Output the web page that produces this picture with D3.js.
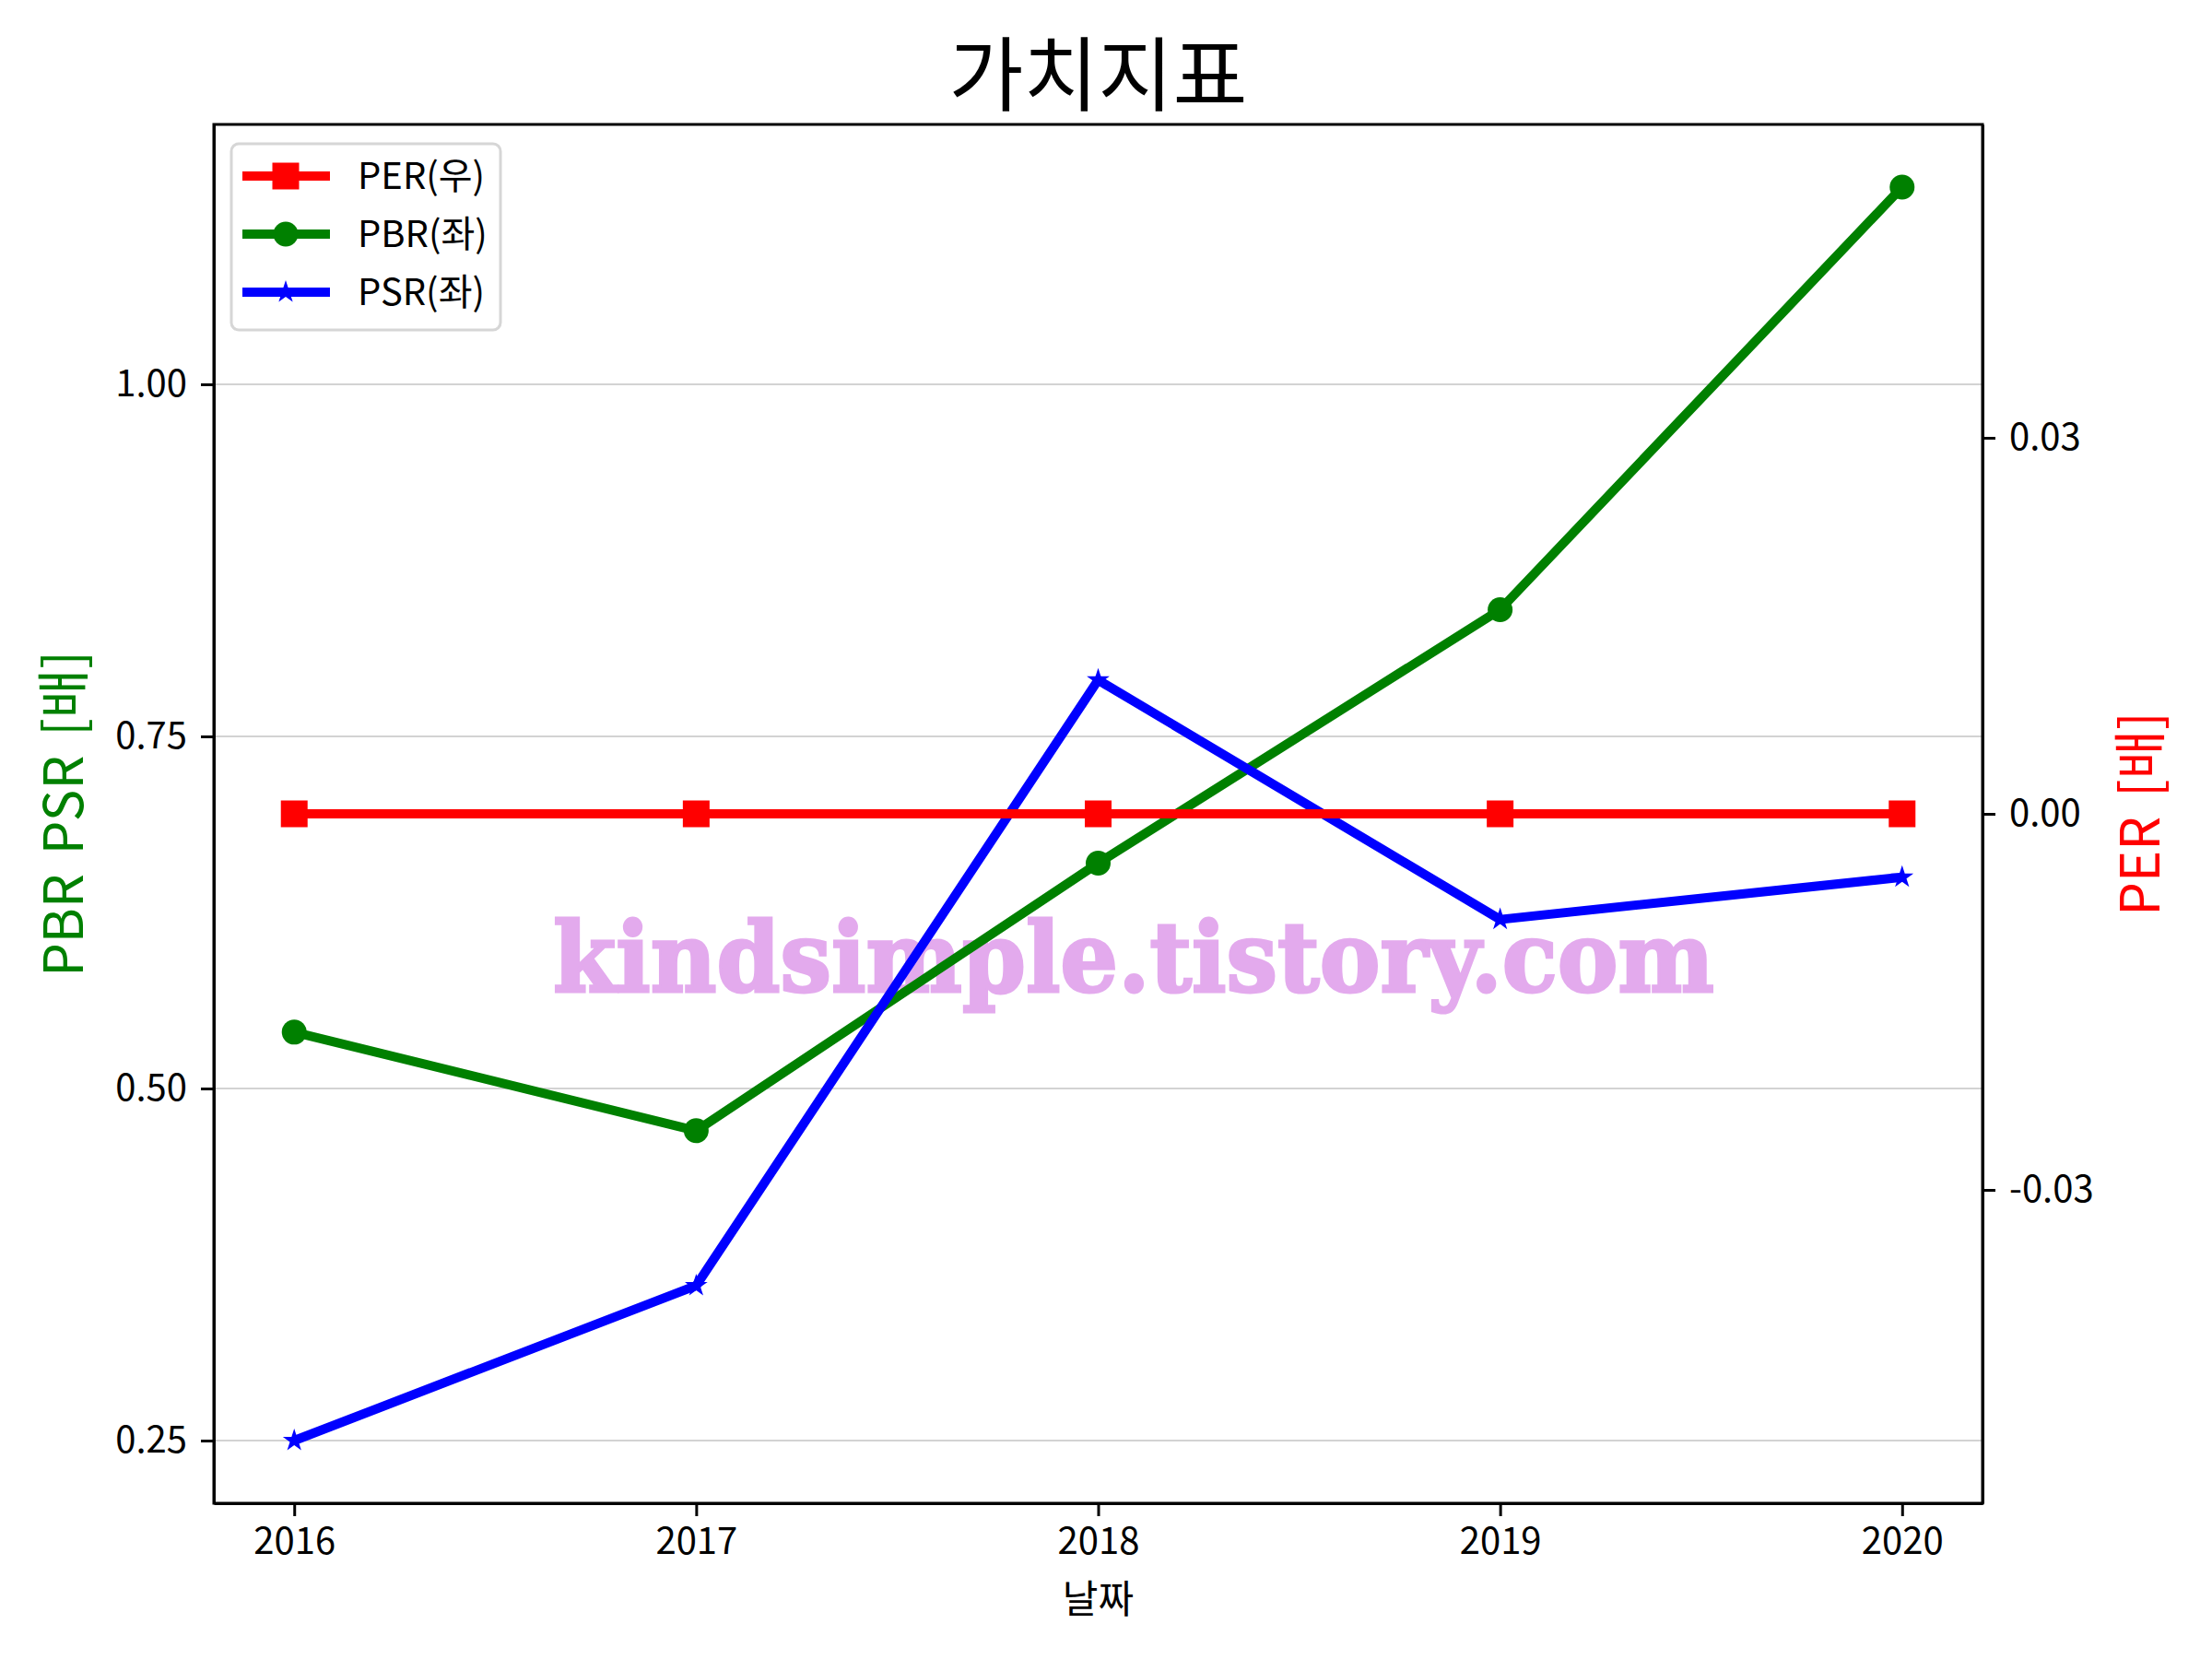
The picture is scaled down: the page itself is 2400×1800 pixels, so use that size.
<!DOCTYPE html>
<html>
<head>
<meta charset="utf-8">
<script src="https://cdn.jsdelivr.net/npm/d3@7"></script>
<style>
  body { margin: 0; background: #fff; }
  text { font-family: "Noto Sans CJK KR", "Noto Sans", sans-serif; }
</style>
</head>
<body>
<svg id="chart" width="2400" height="1800"></svg>
<script>
// data
const years = [2016, 2017, 2018, 2019, 2020];
const per = [0, 0, 0, 0, 0];
const pbr = [0.54, 0.47, 0.66, 0.84, 1.14];
const psr = [0.25, 0.36, 0.79, 0.62, 0.65];
const leftTicks = [0.25, 0.5, 0.75, 1.0];
const rightTicks = [-0.03, 0, 0.03];

const svg = d3.select("#chart");
const plotL = 232, plotR = 2151, plotT = 135, plotB = 1631;

svg.append("rect").attr("width", 2400).attr("height", 1800).attr("fill", "#fff");

const x = d3.scaleLinear().domain([2015.8, 2020.2]).range([plotL, plotR]);
const yL = d3.scaleLinear().domain([0.2055, 1.1845]).range([plotB, plotT]);
const yR = d3.scaleLinear().domain([-0.055, 0.055]).range([plotB, plotT]);

// plain hyphen for negatives, like the reference
const fmt2 = v => d3.format(".2f")(v).replace("−", "-");

// grid on left axis ticks
svg.append("g")
    .selectAll("line")
    .data(leftTicks)
    .enter().append("line")
    .attr("x1", plotL).attr("x2", plotR)
    .attr("y1", d => yL(d)).attr("y2", d => yL(d))
    .attr("stroke", "#d3d3d3").attr("stroke-width", 2);

// watermark
svg.append("text")
    .attr("x", 600).attr("y", 1076)
    .attr("textLength", 1260).attr("lengthAdjust", "spacingAndGlyphs")
    .style("font-family", "'DejaVu Serif', serif")
    .style("font-weight", "bold")
    .style("font-size", "104px")
    .attr("fill", "#e3aaed")
    .attr("stroke", "#e3aaed").attr("stroke-width", 3)
    .text("kindsimple.tistory.com");

// axes
const axisStyle = g => {
    g.selectAll("path").attr("stroke", "#000").attr("stroke-width", 3);
    g.selectAll(".tick line").attr("stroke", "#000").attr("stroke-width", 3);
    g.selectAll(".tick text").attr("fill", "#000").style("font-size", "40px")
        .style("font-family", "'Noto Sans CJK KR', sans-serif");
};

svg.append("g")
    .attr("transform", `translate(0,${plotB})`)
    .call(d3.axisBottom(x).tickValues(years).tickFormat(d3.format("d")).tickSize(14).tickPadding(13).tickSizeOuter(0))
    .call(axisStyle);

svg.append("g")
    .attr("transform", `translate(${plotL},0)`)
    .call(d3.axisLeft(yL).tickValues(leftTicks).tickFormat(fmt2).tickSize(14).tickPadding(15).tickSizeOuter(0))
    .call(axisStyle);

svg.append("g")
    .attr("transform", `translate(${plotR},0)`)
    .call(d3.axisRight(yR).tickValues(rightTicks).tickFormat(fmt2).tickSize(14).tickPadding(15).tickSizeOuter(0))
    .call(axisStyle);

// frame
svg.append("rect")
    .attr("x", plotL).attr("y", plotT)
    .attr("width", plotR - plotL).attr("height", plotB - plotT)
    .attr("fill", "none").attr("stroke", "#000").attr("stroke-width", 3);

const series = [
    { name: "PBR(좌)", values: pbr, y: yL, color: "green", symbol: d3.symbolCircle, size: 573 },
    { name: "PSR(좌)", values: psr, y: yL, color: "blue", symbol: d3.symbolStar, size: 190 },
    { name: "PER(우)", values: per, y: yR, color: "red", symbol: d3.symbolSquare, size: 841 }
];

series.forEach(s => {
    const line = d3.line()
        .x((d, i) => x(years[i]))
        .y(d => s.y(d));
    svg.append("path")
        .datum(s.values)
        .attr("d", line)
        .attr("fill", "none")
        .attr("stroke", s.color)
        .attr("stroke-width", 10)
        .attr("stroke-linejoin", "round");
    svg.append("g")
        .selectAll("path")
        .data(s.values)
        .enter().append("path")
        .attr("transform", (d, i) => `translate(${x(years[i])},${s.y(d)})`)
        .attr("d", d3.symbol().type(s.symbol).size(s.size))
        .attr("fill", s.color);
});

// legend
const legendOrder = [series[2], series[0], series[1]];
const lg = svg.append("g");
lg.append("rect")
    .attr("x", 251).attr("y", 156).attr("width", 292).attr("height", 202)
    .attr("rx", 8)
    .attr("fill", "#fff").attr("fill-opacity", 0.8)
    .attr("stroke", "#d6d6d6").attr("stroke-width", 3);
legendOrder.forEach((s, i) => {
    const cy = 191 + i * 63;
    lg.append("line")
        .attr("x1", 263).attr("x2", 358).attr("y1", cy).attr("y2", cy)
        .attr("stroke", s.color).attr("stroke-width", 10);
    lg.append("path")
        .attr("transform", `translate(310,${cy})`)
        .attr("d", d3.symbol().type(s.symbol).size(s.size))
        .attr("fill", s.color);
    lg.append("text")
        .attr("x", 388).attr("y", cy + 14)
        .style("font-size", "40px")
        .text(s.name);
});

// title and labels
svg.append("text")
    .attr("x", (plotL + plotR) / 2).attr("y", 113)
    .attr("text-anchor", "middle")
    .style("font-size", "88px")
    .text("가치지표");

svg.append("text")
    .attr("x", (plotL + plotR) / 2).attr("y", 1750)
    .attr("text-anchor", "middle")
    .style("font-size", "42px")
    .text("날짜");

svg.append("text")
    .attr("transform", `translate(90,${(plotT + plotB) / 2}) rotate(-90)`)
    .attr("text-anchor", "middle")
    .attr("fill", "green")
    .attr("xml:space", "preserve")
    .style("font-size", "58px")
    .style("word-spacing", "8px")
    .text("PBR PSR [배]");

svg.append("text")
    .attr("transform", `translate(2343,${(plotT + plotB) / 2}) rotate(-90)`)
    .attr("text-anchor", "middle")
    .attr("fill", "red")
    .style("font-size", "58px")
    .style("word-spacing", "8px")
    .text("PER [배]");
</script>
</body>
</html>
